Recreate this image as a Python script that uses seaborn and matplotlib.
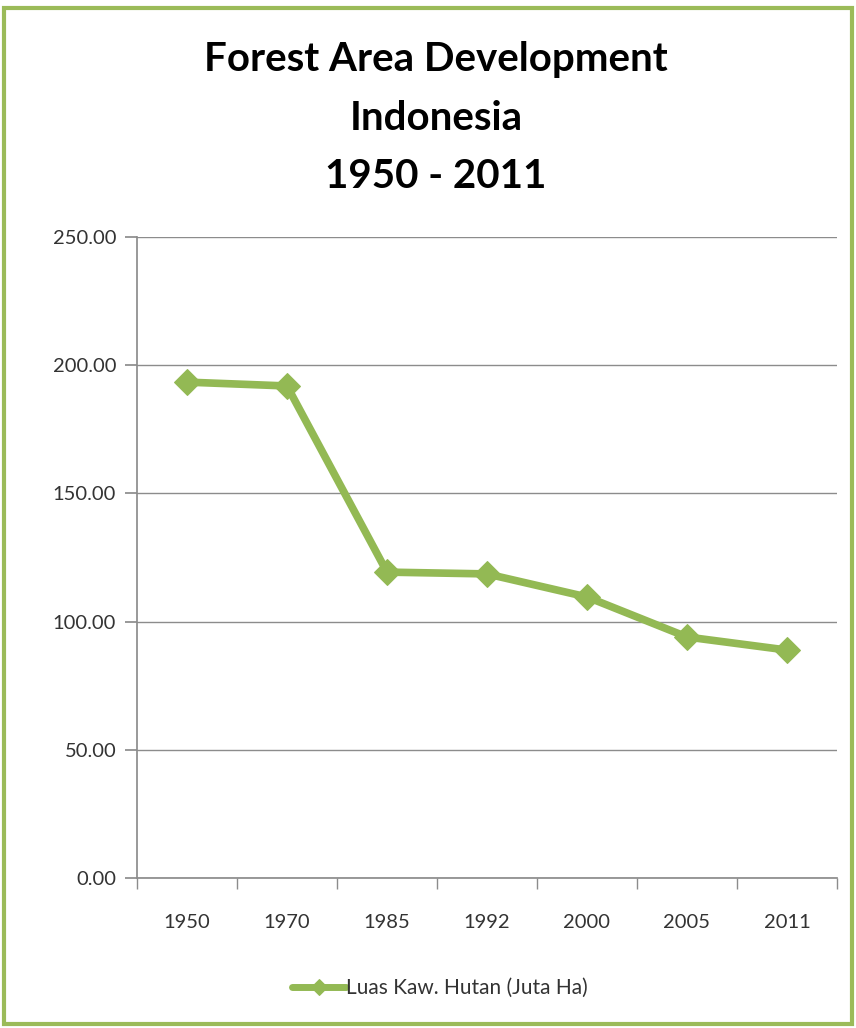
import matplotlib
matplotlib.use("Agg")
import matplotlib.pyplot as plt
import seaborn as sns
import pandas as pd
from matplotlib.patches import Rectangle

years = ["1950", "1970", "1985", "1992", "2000", "2005", "2011"]
area = [193.4, 191.9, 119.3, 118.6, 109.6, 94.0, 88.9]
series_name = "Luas Kaw. Hutan (Juta Ha)"
yticks = [0, 50, 100, 150, 200, 250]

sns.set_theme(style="white")
plt.rcParams["font.family"] = ["Lato", "DejaVu Sans"]

df = pd.DataFrame({"Year": years, "Area": area, "Series": series_name})

green = "#93b954"
fig = plt.figure(figsize=(8.56, 10.28), dpi=100)
ax = fig.add_axes([137/856, 1-878/1028, 700/856, 641/1028])

sns.lineplot(data=df, x="Year", y="Area", hue="Series", palette=[green],
             marker="D", markersize=13, linewidth=5.5, markeredgecolor=green,
             sort=False, ax=ax)

ax.set_xlim(-0.5, 6.5)
ax.set_ylim(0, 250)
ax.set_yticks(yticks)
ax.set_yticklabels([f"{v:.2f}" for v in yticks], fontsize=14.5, color="#333333")
ax.yaxis.grid(True, color="#8c8c8c", linewidth=1)
ax.xaxis.grid(False)
ax.set_xlabel("")
ax.set_ylabel("")
for s in ["top", "right"]:
    ax.spines[s].set_visible(False)
ax.spines["left"].set_color("#8c8c8c")
ax.spines["bottom"].set_color("#8c8c8c")
ax.tick_params(axis="y", left=True, length=9, color="#8c8c8c", pad=6)
ax.set_xticks(range(len(years)))
ax.set_xticklabels(years, fontsize=14.5, color="#333333")
ax.tick_params(axis="x", bottom=False, pad=20)
ax.set_xticks([i - 0.5 for i in range(len(years) + 1)], minor=True)
ax.tick_params(axis="x", which="minor", bottom=True, length=8, color="#8c8c8c")

leg = ax.legend(loc="center", bbox_to_anchor=(440/856, 1-988/1028),
                bbox_transform=fig.transFigure, frameon=False, fontsize=15,
                handlelength=2.6, handletextpad=0.0)
for t in leg.get_texts():
    t.set_color("#333333")
for h in leg.legend_handles:
    h.set_markersize(8)
    h.set_linewidth(5)

fig.text(436/856, 1-60/1028, "Forest Area Development", ha="center", va="center",
         fontsize=29, fontweight="bold", color="black")
fig.text(436/856, 1-118/1028, "Indonesia", ha="center", va="center",
         fontsize=29, fontweight="bold", color="black")
fig.text(436/856, 1-177/1028, "1950 - 2011", ha="center", va="center",
         fontsize=29, fontweight="bold", color="black")

fig.patches.append(Rectangle((4/856, 4/1028), 1-8/856, 1-12/1028, transform=fig.transFigure,
                             fill=False, edgecolor="#9bbb59", linewidth=3))

fig.savefig("out.png", dpi=100)
